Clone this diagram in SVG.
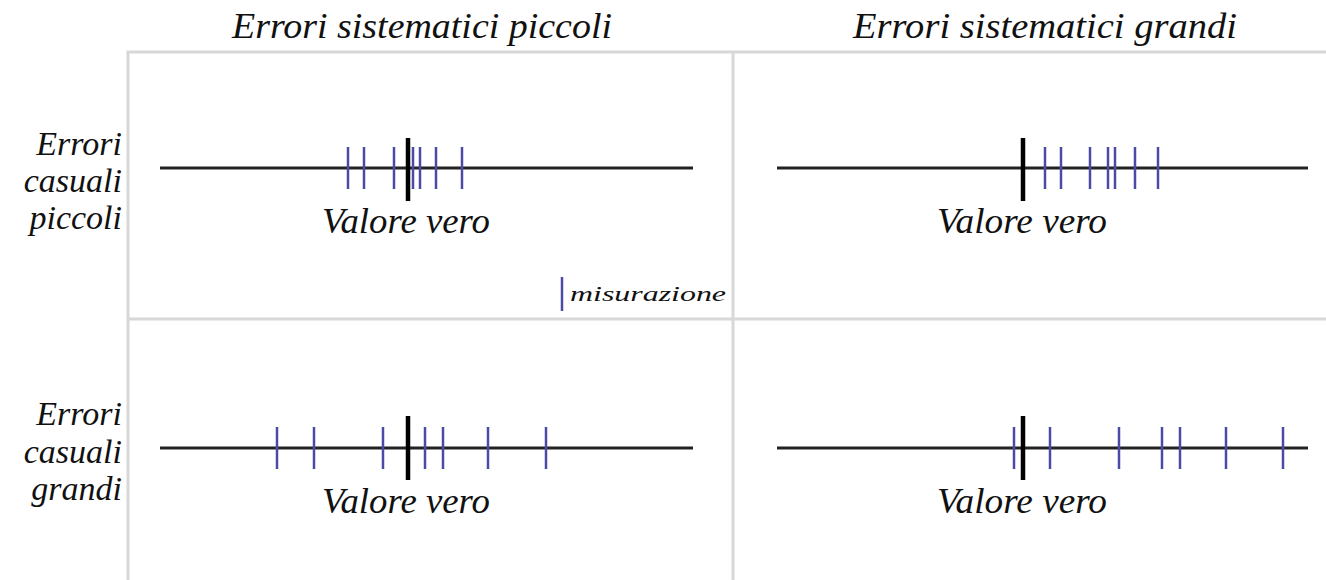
<svg xmlns="http://www.w3.org/2000/svg" width="1326" height="580" viewBox="0 0 1326 580">
<style>
.t{font-family:"Liberation Serif","Times New Roman",serif;font-style:italic;fill:#111}
.h{font-size:36px;text-anchor:middle}
.r{font-size:34px;text-anchor:end}
.v{font-size:35px;text-anchor:middle}
.grid{stroke:#d8d8d8;stroke-width:3;fill:none}
.axis{stroke:#222;stroke-width:3}
.m{stroke:#4b4ba6;stroke-width:2.5}
.tv{stroke:#000;stroke-width:4.5}
</style>
<rect width="1326" height="580" fill="#fff"/>
<g id="grid">
<path class="grid" d="M128,580 V52 H1326 M733,52 V580 M128,319 H1326"/>
</g>
<g id="headers">
<text class="t h" x="422" y="38" textLength="380" lengthAdjust="spacingAndGlyphs">Errori sistematici piccoli</text>
<text class="t h" x="1045" y="38" textLength="384" lengthAdjust="spacingAndGlyphs">Errori sistematici grandi</text>
</g>
<g id="rowlabels">
<text class="t r" x="122" y="155">Errori</text>
<text class="t r" x="122" y="192">casuali</text>
<text class="t r" x="122" y="229">piccoli</text>
<text class="t r" x="122" y="425">Errori</text>
<text class="t r" x="122" y="463">casuali</text>
<text class="t r" x="122" y="500">grandi</text>
</g>
<g id="cell-1-1">
<line class="axis" x1="160" y1="168" x2="693" y2="168"/>
<g class="m">
<line x1="348" y1="147" x2="348" y2="189"/><line x1="364" y1="147" x2="364" y2="189"/>
<line x1="394" y1="147" x2="394" y2="189"/><line x1="413" y1="147" x2="413" y2="189"/>
<line x1="420" y1="147" x2="420" y2="189"/><line x1="436" y1="147" x2="436" y2="189"/>
<line x1="462" y1="147" x2="462" y2="189"/>
</g>
<line class="tv" x1="408" y1="138" x2="408" y2="201"/>
<text class="t v" x="406" y="233" textLength="168" lengthAdjust="spacingAndGlyphs">Valore vero</text>
<line class="m" x1="562" y1="277" x2="562" y2="311"/>
<text class="t" x="570" y="301" font-size="22" textLength="156" lengthAdjust="spacingAndGlyphs">misurazione</text>
</g>
<g id="cell-1-2">
<line class="axis" x1="777" y1="168" x2="1308" y2="168"/>
<g class="m">
<line x1="1045" y1="147" x2="1045" y2="189"/><line x1="1061" y1="147" x2="1061" y2="189"/>
<line x1="1090" y1="147" x2="1090" y2="189"/><line x1="1108" y1="147" x2="1108" y2="189"/>
<line x1="1115" y1="147" x2="1115" y2="189"/><line x1="1135" y1="147" x2="1135" y2="189"/>
<line x1="1158" y1="147" x2="1158" y2="189"/>
</g>
<line class="tv" x1="1023" y1="138" x2="1023" y2="201"/>
<text class="t v" x="1022" y="233" textLength="170" lengthAdjust="spacingAndGlyphs">Valore vero</text>
</g>
<g id="cell-2-1">
<line class="axis" x1="160" y1="448" x2="693" y2="448"/>
<g class="m">
<line x1="277" y1="427" x2="277" y2="469"/><line x1="314" y1="427" x2="314" y2="469"/>
<line x1="383" y1="427" x2="383" y2="469"/><line x1="425" y1="427" x2="425" y2="469"/>
<line x1="443" y1="427" x2="443" y2="469"/><line x1="488" y1="427" x2="488" y2="469"/>
<line x1="546" y1="427" x2="546" y2="469"/>
</g>
<line class="tv" x1="408" y1="416" x2="408" y2="480"/>
<text class="t v" x="406" y="513" textLength="168" lengthAdjust="spacingAndGlyphs">Valore vero</text>
</g>
<g id="cell-2-2">
<line class="axis" x1="777" y1="448" x2="1308" y2="448"/>
<g class="m">
<line x1="1014" y1="427" x2="1014" y2="469"/><line x1="1050" y1="427" x2="1050" y2="469"/>
<line x1="1119" y1="427" x2="1119" y2="469"/><line x1="1162" y1="427" x2="1162" y2="469"/>
<line x1="1180" y1="427" x2="1180" y2="469"/><line x1="1226" y1="427" x2="1226" y2="469"/>
<line x1="1283" y1="427" x2="1283" y2="469"/>
</g>
<line class="tv" x1="1023" y1="416" x2="1023" y2="480"/>
<text class="t v" x="1022" y="513" textLength="170" lengthAdjust="spacingAndGlyphs">Valore vero</text>
</g>
</svg>
